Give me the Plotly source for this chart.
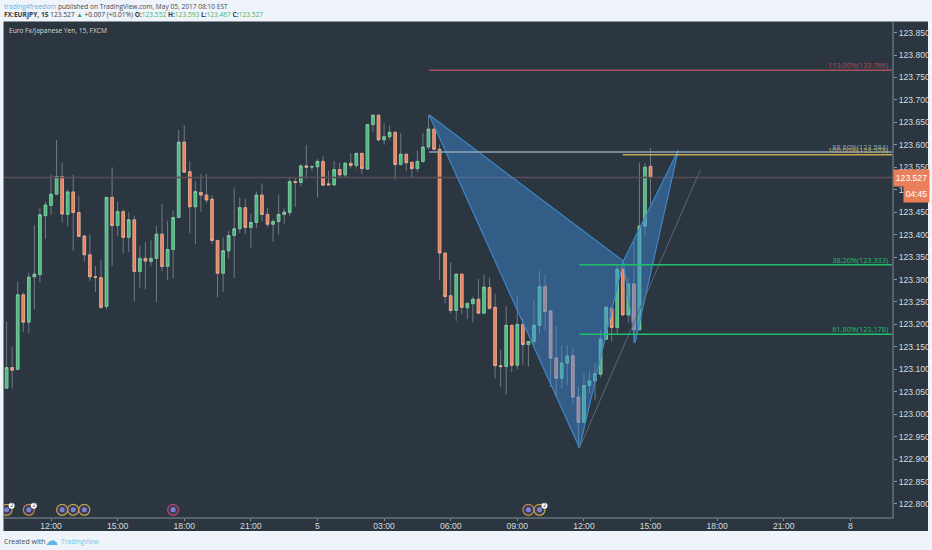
import plotly.graph_objects as go

# 15 minute bars, 0 is the 12:00 bar
first_bar = -8
opens = [123.058, 123.104, 123.100, 123.266, 123.205, 123.306, 123.311, 123.442, 123.465, 123.490,
         123.529, 123.445, 123.495, 123.449, 123.397, 123.355, 123.306, 123.304, 123.240, 123.483,
         123.420, 123.451, 123.394, 123.433, 123.318, 123.347, 123.340, 123.347, 123.401, 123.329,
         123.367, 123.438, 123.606, 123.540, 123.462, 123.494, 123.488, 123.479, 123.387, 123.314,
         123.364, 123.398, 123.413, 123.460, 123.416, 123.427, 123.488, 123.445, 123.423, 123.429,
         123.445, 123.449, 123.518, 123.516, 123.553, 123.551, 123.551, 123.563, 123.513, 123.511,
         123.545, 123.533, 123.559, 123.554, 123.581, 123.546, 123.645, 123.666, 123.611, 123.618,
         123.628, 123.556, 123.579, 123.561, 123.547, 123.563, 123.595, 123.635, 123.590, 123.359,
         123.264, 123.231, 123.312, 123.237, 123.246, 123.256, 123.225, 123.282, 123.238, 123.108,
         123.106, 123.198, 123.109, 123.200, 123.155, 123.162, 123.198, 123.284, 123.230, 123.125,
         123.080, 123.114, 123.130, 123.038, 122.982, 123.064, 123.074, 123.089, 123.167, 123.236,
         123.193, 123.323, 123.221, 123.290, 123.188, 123.419, 123.552]
highs = [123.206, 123.150, 123.295, 123.271, 123.315, 123.421, 123.459, 123.473, 123.533, 123.611,
         123.560, 123.501, 123.533, 123.486, 123.397, 123.399, 123.330, 123.344, 123.483, 123.550,
         123.473, 123.456, 123.450, 123.442, 123.375, 123.383, 123.387, 123.420, 123.468, 123.431,
         123.453, 123.633, 123.644, 123.564, 123.519, 123.535, 123.535, 123.488, 123.387, 123.394,
         123.409, 123.505, 123.483, 123.481, 123.447, 123.496, 123.514, 123.459, 123.434, 123.489,
         123.458, 123.529, 123.528, 123.557, 123.600, 123.555, 123.568, 123.575, 123.542, 123.564,
         123.560, 123.560, 123.581, 123.581, 123.581, 123.646, 123.667, 123.667, 123.648, 123.643,
         123.628, 123.626, 123.579, 123.561, 123.587, 123.626, 123.666, 123.635, 123.601, 123.359,
         123.338, 123.312, 123.312, 123.247, 123.262, 123.301, 123.310, 123.304, 123.268, 123.143,
         123.241, 123.198, 123.264, 123.214, 123.162, 123.253, 123.319, 123.310, 123.232, 123.197,
         123.153, 123.154, 123.147, 123.062, 123.091, 123.095, 123.114, 123.188, 123.240, 123.240,
         123.333, 123.340, 123.303, 123.384, 123.560, 123.560, 123.593]
lows = [123.057, 123.057, 123.098, 123.182, 123.180, 123.234, 123.294, 123.390, 123.444, 123.490,
        123.427, 123.418, 123.364, 123.396, 123.340, 123.297, 123.272, 123.234, 123.234, 123.331,
        123.396, 123.358, 123.362, 123.252, 123.282, 123.278, 123.329, 123.249, 123.318, 123.299,
        123.302, 123.438, 123.539, 123.403, 123.379, 123.451, 123.471, 123.379, 123.260, 123.272,
        123.347, 123.303, 123.403, 123.401, 123.371, 123.414, 123.430, 123.416, 123.384, 123.400,
        123.424, 123.442, 123.462, 123.508, 123.525, 123.542, 123.483, 123.509, 123.509, 123.509,
        123.528, 123.527, 123.547, 123.547, 123.535, 123.544, 123.629, 123.607, 123.600, 123.611,
        123.522, 123.554, 123.542, 123.528, 123.540, 123.560, 123.588, 123.588, 123.299, 123.247,
        123.225, 123.208, 123.223, 123.212, 123.204, 123.225, 123.223, 123.232, 123.080, 123.060,
        123.044, 123.094, 123.100, 123.110, 123.106, 123.151, 123.180, 123.186, 123.060, 123.039,
        123.058, 123.065, 123.021, 122.924, 122.980, 123.047, 123.032, 123.082, 123.166, 123.163,
        123.180, 123.220, 123.204, 123.158, 123.188, 123.397, 123.467]
closes = [123.104, 123.098, 123.266, 123.205, 123.305, 123.312, 123.444, 123.466, 123.490, 123.529,
          123.446, 123.495, 123.449, 123.396, 123.355, 123.306, 123.305, 123.238, 123.483, 123.420,
          123.451, 123.394, 123.433, 123.318, 123.347, 123.341, 123.347, 123.401, 123.329, 123.367,
          123.438, 123.606, 123.539, 123.462, 123.496, 123.488, 123.477, 123.387, 123.314, 123.364,
          123.398, 123.413, 123.460, 123.416, 123.427, 123.488, 123.445, 123.423, 123.429, 123.445,
          123.450, 123.518, 123.516, 123.553, 123.550, 123.551, 123.563, 123.510, 123.511, 123.545,
          123.533, 123.559, 123.554, 123.581, 123.547, 123.645, 123.666, 123.611, 123.618, 123.628,
          123.556, 123.579, 123.560, 123.547, 123.563, 123.595, 123.635, 123.590, 123.359, 123.262,
          123.231, 123.312, 123.238, 123.247, 123.256, 123.225, 123.283, 123.236, 123.108, 123.106,
          123.198, 123.109, 123.200, 123.155, 123.162, 123.198, 123.284, 123.229, 123.125, 123.080,
          123.114, 123.129, 123.038, 122.982, 123.064, 123.074, 123.090, 123.167, 123.238, 123.193,
          123.323, 123.221, 123.290, 123.188, 123.419, 123.550, 123.527]

y_ticks = [122.80, 122.85, 122.90, 122.95, 123.00, 123.05, 123.10, 123.15, 123.20, 123.25, 123.30,
           123.35, 123.40, 123.45, 123.50, 123.55, 123.60, 123.65, 123.70, 123.75, 123.80, 123.85]
x_ticks = [0, 12, 24, 36, 48, 60, 72, 84, 96, 108, 120, 132, 144]
x_labels = ["12:00", "15:00", "18:00", "21:00", "5", "03:00", "06:00", "09:00", "12:00", "15:00",
            "18:00", "21:00", "8"]

# XABCD points of the harmonic pattern
pattern_bars = [68.1, 95.2, 103.1, 105.2, 113]
pattern_prices = [123.667, 122.925, 123.341, 123.159, 123.588]

fib_labels = ["113.00%(123.766)", "88.60%(123.584)", "100.00%(123.578)", "38.20%(123.333)", "61.80%(123.178)"]
fib_prices = [123.766, 123.584, 123.578, 123.333, 123.178]
fib_starts = [68.1, 68.1, 103, 95.2, 95.2]
fib_colors = ["#a8505a", "#8fa6bb", "#c2a94f", "#1fc06a", "#1fc06a"]

last_price = 123.527
right_bar = 151.5
left_bar = -8.47

event_bars = [-8, -4, 2, 4, 6, 22, 86, 88]
event_colors = ["#c9a544", "#c98a44", "#c9a544", "#c9a544", "#c9a544", "#c2406e", "#c98a44", "#c9a544"]
badge_bars = [-8, -4, 88]
event_price = 122.787

BG = "#2b3640"
W, H = 932, 550
L, R, T, B = 4, 40, 22, 33

bars = [first_bar + i for i in range(len(opens))]
body_high = [max(o, c) for o, c in zip(opens, closes)]
body_low = [min(o, c) for o, c in zip(opens, closes)]


def px(x):
    return (x - L) / (W - L - R)


def py(y):
    return (H - B - y) / (H - T - B)


fig = go.Figure()

fig.add_trace(go.Scatter(x=[left_bar, right_bar], y=[last_price, last_price], mode="lines",
                         line=dict(color="#5e4c55", width=1.5)))

# wicks first, then the bodies with their lighter border
fig.add_trace(go.Candlestick(x=bars, open=opens, high=highs, low=lows, close=closes, whiskerwidth=0,
                             increasing=dict(line=dict(color="#6f7a83", width=1), fillcolor="#6f7a83"),
                             decreasing=dict(line=dict(color="#6f7a83", width=1), fillcolor="#6f7a83")))
fig.add_trace(go.Candlestick(x=bars, open=opens, high=body_high, low=body_low, close=closes, whiskerwidth=0,
                             increasing=dict(line=dict(color="#86d8a8", width=0.7), fillcolor="#49b87e"),
                             decreasing=dict(line=dict(color="#f6b595", width=0.7), fillcolor="#e9805b")))

# pattern triangles XAB and BCD
for idx in ([0, 1, 2, 0], [2, 3, 4, 2]):
    fig.add_trace(go.Scatter(x=[pattern_bars[i] for i in idx], y=[pattern_prices[i] for i in idx],
                             mode="lines", fill="toself", fillcolor="rgba(62,140,220,0.45)",
                             line=dict(color="#3f86c8", width=1.2)))

# thin trend line out of A
fig.add_trace(go.Scatter(x=[pattern_bars[1], 117], y=[pattern_prices[1], 123.545], mode="lines",
                         line=dict(color="#5a6670", width=1)))

for label, price, start, color in zip(fib_labels, fib_prices, fib_starts, fib_colors):
    fig.add_trace(go.Scatter(x=[start, right_bar], y=[price, price], mode="lines",
                             line=dict(color=color, width=1.5)))
    fig.add_trace(go.Scatter(x=[right_bar - 0.7], y=[price], mode="text", text=[label],
                             textposition="top left", textfont=dict(color=color, size=7.3, family="Open Sans")))

fig.add_trace(go.Scatter(x=event_bars, y=[event_price] * len(event_bars), mode="markers",
                         marker=dict(size=11, color="#3a3d5c", line=dict(color=event_colors, width=1.2))))
fig.add_trace(go.Scatter(x=event_bars, y=[event_price] * len(event_bars), mode="markers",
                         marker=dict(size=5, color="#7e80cc")))
fig.add_trace(go.Scatter(x=[b + 0.9 for b in badge_bars], y=[event_price + 0.009] * len(badge_bars),
                         mode="markers+text", text=["2"] * len(badge_bars), textposition="middle center",
                         textfont=dict(size=5, color="#333333"), marker=dict(size=6, color="#ffffff")))

fig.update_layout(
    width=W,
    height=H,
    margin=dict(l=L, r=R, t=T, b=B),
    paper_bgcolor="#eff3fa",
    plot_bgcolor=BG,
    showlegend=False,
    hovermode=False,
    boxgap=0.32,
    shapes=[dict(type="rect", xref="paper", yref="paper", x0=px(3.5), x1=px(928), y0=py(531), y1=py(21.5),
                 fillcolor=BG, line=dict(width=0), layer="below")],
    xaxis=dict(range=[left_bar, right_bar], rangeslider=dict(visible=False), showgrid=False, zeroline=False,
               automargin=False, tickvals=x_ticks, ticktext=x_labels, ticks="outside", ticklen=2,
               ticklabelstandoff=-2, tickcolor="#8a949c",
               tickfont=dict(color="#d6dbdf", size=8.6, family="Liberation Sans"),
               showline=True, linecolor="#56626c", linewidth=2),
    yaxis=dict(range=[122.771, 123.8735], side="right", showgrid=False, zeroline=False,
               automargin=False, tickvals=y_ticks, tickformat=".3f", ticks="outside", ticklen=3,
               tickcolor="#8a949c", tickfont=dict(color="#d6dbdf", size=8.6, family="Liberation Sans"),
               showline=True, linecolor="#56626c", linewidth=2),
)

notes = [
    (3, 6, '<span style="color:#5bb4e5">trading4freedom</span> published on TradingView.com, May 05, 2017 08:10 EST', 6.6, "#444b55"),
    (3, 15, '<b>FX:EURJPY, 15</b> 123.527 <span style="color:#2eaa55">▲</span> +0.007 (+0.01%) '
            '<b>O:</b><span style="color:#3fb36b">123.552</span> <b>H:</b><span style="color:#3fb36b">123.593</span> '
            '<b>L:</b><span style="color:#3fb36b">123.467</span> <b>C:</b><span style="color:#3fb36b">123.527</span>', 6.6, "#333b45"),
    (8, 30.5, "Euro Fx/Japanese Yen, 15, FXCM", 6.6, "#d5dade"),
    (3, 541, "Created with", 7, "#444b55"),
    (44, 540, "☁", 13, "#5bb6e0"),
    (60, 541, "TradingView", 6.6, "#77c3e8"),
]
for x, y, text, size, color in notes:
    fig.add_annotation(xref="paper", yref="paper", x=px(x), y=py(y), xanchor="left", yanchor="middle",
                       text=text, showarrow=False, align="left", borderpad=0,
                       font=dict(size=size, color=color, family="Open Sans"))

fig.add_annotation(xref="paper", yref="y", x=px(892.5), y=last_price, xanchor="left", yanchor="middle",
                   text="123.527", showarrow=False, bgcolor="#e9805b", width=33, height=14,
                   font=dict(size=8.6, color="#ffffff", family="Liberation Sans"))
fig.add_annotation(xref="paper", yref="paper", x=px(903), y=py(194), xanchor="left", yanchor="middle",
                   text="04:45", showarrow=False, bgcolor="#e9805b", width=23, height=14,
                   font=dict(size=8.6, color="#ffffff", family="Liberation Sans"))

# page margin would shift the whole chart by 8px
fig.write_html("out.html", config=dict(displayModeBar=False),
               post_script="document.body.style.margin='0';document.body.style.overflow='hidden';")
